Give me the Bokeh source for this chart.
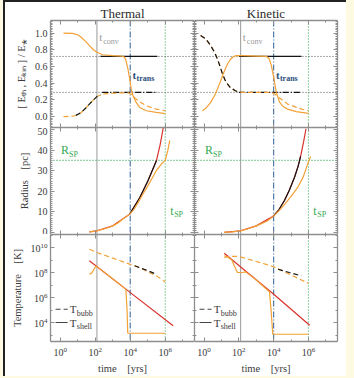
from bokeh.plotting import figure
from bokeh.layouts import row, column
from bokeh.models import (Range1d, LogAxis, LinearAxis, FixedTicker, SingleIntervalTicker,
                          Span, PrintfTickFormatter, GlobalInlineStyleSheet)
from bokeh.core.properties import value
from bokeh.embed import file_html
from bokeh.resources import INLINE

# ---------------- data (times given as log10 of years) ----------------
T_CONV = 10 ** 2.1
T_TRANS = 10 ** 4.0
T_SP = 10 ** 6.0
R_SP = 35.0
E_TH_LEVEL = 0.72
E_KIN_LEVEL = 0.29
panel_titles = ["Thermal", "Kinetic"]

# Thermal run: energy fractions
th_eth_logt = [0.19, 0.7, 1.0, 1.2, 1.45, 1.67, 1.9, 2.1, 2.43, 3.0, 3.5, 3.65, 3.75, 3.87, 3.97, 4.06, 4.16, 4.34, 4.54, 4.92, 5.49, 6.0]
th_eth_val = [1.0, 0.995, 0.98, 0.95, 0.9, 0.85, 0.8, 0.77, 0.74, 0.73, 0.725, 0.715, 0.68, 0.57, 0.45, 0.33, 0.25, 0.17, 0.11, 0.07, 0.05, 0.035]
th_ekin_logt = [0.19, 0.7, 1.0, 1.2, 1.45, 1.67, 1.9, 2.1, 2.43, 3.0, 3.5, 3.9, 4.1, 4.34, 4.6, 4.92, 5.49, 6.0]
th_ekin_val = [0.0, 0.005, 0.02, 0.05, 0.1, 0.15, 0.2, 0.24, 0.27, 0.28, 0.285, 0.285, 0.26, 0.21, 0.17, 0.13, 0.09, 0.07]
th_ekin_ref_logt = [0.9, 1.2, 1.45, 1.67, 1.9, 2.1, 2.3]
th_ekin_ref_val = [0.015, 0.05, 0.1, 0.15, 0.2, 0.24, 0.26]
th_eth_an_logt = [2.3, 5.55]
th_eth_an_val = [0.72, 0.72]
th_ekin_an_logt = [2.4, 5.55]
th_ekin_an_val = [0.29, 0.29]

# Kinetic run: energy fractions
ki_ekin_logt = [-0.2, 0.1, 0.38, 0.6, 0.77, 0.92, 1.06, 1.2, 1.35, 1.5, 1.64, 1.8, 1.92, 2.2, 3.0, 3.8, 4.0, 4.3, 4.55, 4.8, 5.2, 5.6, 6.0]
ki_ekin_val = [0.97, 0.93, 0.85, 0.77, 0.69, 0.6, 0.51, 0.44, 0.39, 0.35, 0.33, 0.31, 0.30, 0.29, 0.29, 0.29, 0.28, 0.23, 0.19, 0.15, 0.12, 0.09, 0.07]
ki_eth_logt = [-0.1, 0.1, 0.38, 0.6, 0.77, 0.92, 1.06, 1.2, 1.35, 1.5, 1.64, 1.83, 2.2, 3.0, 3.6, 3.75, 3.87, 4.02, 4.15, 4.35, 4.55, 4.8, 5.3, 6.0]
ki_eth_val = [0.07, 0.1, 0.17, 0.25, 0.33, 0.41, 0.49, 0.56, 0.63, 0.68, 0.71, 0.73, 0.73, 0.725, 0.72, 0.69, 0.61, 0.45, 0.29, 0.17, 0.12, 0.09, 0.06, 0.04]
ki_ekin_ref_logt = [-0.2, 0.1, 0.38, 0.6, 0.77, 0.92, 1.06, 1.2, 1.35, 1.5, 1.64, 1.8, 1.92]
ki_ekin_ref_val = [0.97, 0.93, 0.85, 0.77, 0.69, 0.6, 0.51, 0.44, 0.39, 0.35, 0.33, 0.31, 0.30]
ki_eth_an_logt = [2.0, 5.6]
ki_eth_an_val = [0.72, 0.72]
ki_ekin_an_logt = [2.0, 5.62]
ki_ekin_an_val = [0.29, 0.29]

# Radius [pc]
th_r_logt = [1.67, 2.1, 2.5, 3.0, 3.3, 3.58, 3.8, 3.97, 4.2, 4.45, 4.73, 5.0, 5.25, 5.49, 5.75, 6.0, 6.15, 6.26]
th_r_val = [0.3, 0.8, 1.7, 3.2, 4.6, 6.5, 7.8, 8.9, 11.0, 14.5, 18.7, 22.5, 26.3, 30.0, 33.0, 35.0, 40.0, 44.7]
th_rref_logt = [1.67, 2.1, 3.0, 3.97, 4.55, 5.02, 5.5, 5.7, 5.89]
th_rref_val = [0.3, 0.8, 3.2, 8.9, 17.0, 25.2, 35.0, 42.3, 51.0]
th_rblk_logt = [3.97, 4.55, 5.02, 5.5]
th_rblk_val = [8.9, 17.0, 25.2, 35.0]

ki_r_logt = [1.16, 1.6, 2.1, 2.5, 3.0, 3.3, 3.66, 3.97, 4.3, 4.62, 5.0, 5.39, 5.7, 6.03, 6.13]
ki_r_val = [0.0, 0.3, 0.8, 1.7, 3.2, 4.3, 5.7, 7.8, 10.5, 13.5, 17.5, 22.0, 27.0, 35.0, 36.9]
ki_rref_logt = [1.16, 2.1, 3.0, 3.97, 4.3, 4.62, 4.9, 5.2, 5.4, 5.58, 5.72, 5.86]
ki_rref_val = [0.0, 0.8, 3.2, 7.8, 11.0, 15.5, 20.5, 26.8, 32.0, 38.2, 44.0, 50.4]
ki_rblk_logt = [3.97, 4.3, 4.62, 4.9, 5.2, 5.4, 5.55]
ki_rblk_val = [7.8, 11.0, 15.5, 20.5, 26.8, 32.0, 37.0]

# Temperature [K] (log10 values)
th_tb_logt = [1.67, 2.1, 3.0, 3.97, 4.54, 5.0, 5.5, 6.0]
th_tb_logT = [9.86, 9.6, 9.15, 8.67, 8.4, 8.05, 7.73, 7.26]
th_tbref_logt = [4.25, 4.6, 5.0, 5.49]
th_tbref_logT = [8.54, 8.35, 8.15, 7.86]
th_tsref_logt = [1.67, 3.97, 6.45]
th_tsref_logT = [8.94, 6.43, 3.74]
th_ts_logt = [1.67, 1.8, 1.95, 2.05, 3.0, 3.75, 3.82, 3.86, 4.5, 5.5, 6.0]
th_ts_logT = [7.86, 7.95, 8.3, 8.53, 7.5, 6.67, 5.0, 3.14, 3.14, 3.14, 3.14]

ki_tb_logt = [1.16, 1.5, 2.02, 3.0, 3.97, 5.0, 5.99]
ki_tb_logT = [9.2, 9.3, 9.28, 8.88, 8.48, 7.8, 7.14]
ki_tbref_logt = [4.25, 4.9, 5.59]
ki_tbref_logT = [8.26, 8.0, 7.73]
ki_tsref_logt = [1.16, 2.4, 3.97, 6.07]
ki_tsref_logT = [9.54, 8.1, 6.3, 3.78]
ki_ts_logt = [1.16, 1.4, 1.6, 1.73, 1.92, 2.2, 2.4, 3.0, 3.76, 3.85, 3.95, 5.0, 6.0]
ki_ts_logT = [9.34, 9.2, 9.0, 8.54, 8.0, 8.0, 8.05, 7.4, 6.45, 5.0, 3.06, 3.06, 3.06]

x_tick_vals = [1, 1e2, 1e4, 1e6]
x_minor_vals = [1e1, 1e3, 1e5, 1e7]
t_tick_vals = [1e4, 1e6, 1e8, 1e10]
t_minor_vals = [1e3, 1e5, 1e7, 1e9, 1e11]


def ex(v):
    return [10 ** a for a in v]


# ---------------- styling ----------------
FONT = "Liberation Serif"
ORANGE = "#f2a136"
RED = "#d8322c"
BLACK = "#151515"
GRAY = "#a3a3a3"
BLUE = "#3f6d9e"
BLUE_T = "#2c4f7c"
GREEN = "#34a852"
FRAME = "#8e8e8e"
TXT = "#3a3a3a"
LW = 1.2
X_LO, X_HI = 10 ** -0.55, 10 ** 7.67


def style_axis(ax, show_labels, standoff=3):
    ax.axis_line_color = FRAME
    ax.axis_line_width = 1.3
    ax.major_tick_in = 4
    ax.major_tick_out = 0
    ax.minor_tick_in = 2
    ax.minor_tick_out = 0
    ax.major_tick_line_color = FRAME
    ax.minor_tick_line_color = FRAME
    ax.major_label_text_font = FONT
    ax.major_label_text_color = TXT
    ax.axis_label_text_font = FONT
    ax.axis_label_text_font_style = "normal"
    ax.axis_label_text_color = TXT
    ax.axis_label_text_font_size = "10.5px"
    if show_labels:
        ax.major_label_text_font_size = "10px"
        ax.major_label_standoff = standoff
    else:
        ax.major_label_text_font_size = "1px"
        ax.major_label_text_alpha = 0
        ax.major_label_standoff = 0


def make(col, kind, title=None):
    ylog = kind == "temp"
    yr = {"energy": (-0.13, 1.15), "radius": (-1.0, 51.0), "temp": (10 ** 2.48, 10 ** 11.04)}[kind]
    p = figure(frame_width=144 if col == 0 else 143, frame_height=107,
               x_axis_type="log", y_axis_type="log" if ylog else "linear",
               x_range=Range1d(X_LO, X_HI), y_range=Range1d(*yr),
               output_backend="svg", toolbar_location=None,
               min_border_left=45 if col == 0 else 0, min_border_right=0 if col == 0 else 9,
               min_border_top=18 if kind == "energy" else 0, min_border_bottom=0,
               background_fill_color="white", border_fill_color="white",
               outline_line_color=None)
    p.grid.visible = False

    def xticker():
        return FixedTicker(ticks=x_tick_vals, minor_ticks=x_minor_vals)

    def yticker():
        if kind == "energy":
            return SingleIntervalTicker(interval=0.2, num_minor_ticks=10)
        if kind == "radius":
            return SingleIntervalTicker(interval=10, num_minor_ticks=10)
        return FixedTicker(ticks=t_tick_vals, minor_ticks=t_minor_vals)

    p.xaxis.ticker = xticker()
    p.yaxis.ticker = yticker()
    style_axis(p.xaxis[0], kind == "temp", standoff=5)
    style_axis(p.yaxis[0], col == 0)
    if kind == "energy":
        p.yaxis.formatter = PrintfTickFormatter(format="%.1f")
    if kind == "temp":
        p.xaxis.axis_label = "time\u2002\u2002[yrs]"
        p.xaxis.axis_label_standoff = 4
    if col == 0:
        p.yaxis.axis_label = {"energy": "[ E\u209c\u2095 , E\u2096\u1d62\u2099 ] / E\u204e",
                              "radius": "Radius\u2002\u2002[pc]",
                              "temp": "Temperature\u2002\u2002[K]"}[kind]
        p.yaxis.axis_label_standoff = 5

    top = LogAxis(ticker=xticker())
    style_axis(top, False)
    if title is not None:
        # panel heading placed just above the frame
        top.axis_label = title
        top.axis_label_text_font_size = "13px"
        top.axis_label_text_color = "#2a2a2a"
        top.axis_label_standoff = 0
    p.add_layout(top, "above")
    right = LogAxis(ticker=yticker()) if ylog else LinearAxis(ticker=yticker())
    style_axis(right, False)
    p.add_layout(right, "right")

    p.add_layout(Span(location=T_CONV, dimension="height", line_color=GRAY, line_width=1.1, level="underlay"))
    p.add_layout(Span(location=T_TRANS, dimension="height", line_color=BLUE, line_width=1.1,
                      line_dash="6 2 1 2", level="underlay"))
    p.add_layout(Span(location=T_SP, dimension="height", line_color=GREEN, line_width=1.1,
                      line_dash="1 2", level="underlay"))
    return p


def sub_text(p, x, y, main, sub, color, size=11, subsize=8, dx=4, dy=4, bold=False):
    st = "bold" if bold else "normal"
    p.text(x=[x], y=[y], text=[main], text_font=value(FONT), text_font_size=f"{size}px",
           text_color=color, text_align="left", text_baseline="middle", text_font_style=st)
    p.text(x=[x], y=[y], text=[sub], text_font=value(FONT), text_font_size=f"{subsize}px",
           text_color=color, text_align="left", text_baseline="middle", x_offset=dx, y_offset=dy,
           text_font_style=st)


figs = []
for col, name in enumerate(panel_titles):
    # energy
    pe = make(col, "energy", title=name)
    pe.add_layout(Span(location=E_TH_LEVEL, dimension="width", line_color="#555555", line_width=1,
                       line_dash="1 2", level="underlay"))
    pe.add_layout(Span(location=E_KIN_LEVEL, dimension="width", line_color="#555555", line_width=1,
                       line_dash="1 2", level="underlay"))
    if col == 0:
        pe.line(ex(th_eth_an_logt), th_eth_an_val, line_color=BLACK, line_width=LW)
        pe.line(ex(th_ekin_an_logt), th_ekin_an_val, line_color=BLACK, line_width=LW, line_dash="6 2 1 2")
        pe.line(ex(th_eth_logt), th_eth_val, line_color=ORANGE, line_width=LW)
        pe.line(ex(th_ekin_logt), th_ekin_val, line_color=ORANGE, line_width=LW, line_dash="5 3")
        pe.line(ex(th_ekin_ref_logt), th_ekin_ref_val, line_color=BLACK, line_width=LW, line_dash="5 3")
    else:
        pe.line(ex(ki_eth_an_logt), ki_eth_an_val, line_color=BLACK, line_width=LW)
        pe.line(ex(ki_ekin_an_logt), ki_ekin_an_val, line_color=BLACK, line_width=LW, line_dash="6 2 1 2")
        pe.line(ex(ki_eth_logt), ki_eth_val, line_color=ORANGE, line_width=LW)
        pe.line(ex(ki_ekin_logt), ki_ekin_val, line_color=ORANGE, line_width=LW, line_dash="5 3")
        pe.line(ex(ki_ekin_ref_logt), ki_ekin_ref_val, line_color=BLACK, line_width=LW, line_dash="5 3")
    sub_text(pe, T_CONV * 1.35, 0.95, "t", "conv", "#9a9a9a")
    sub_text(pe, T_TRANS * 1.35, 0.5, "t", "trans", BLUE_T, bold=True)

    # radius
    pr = make(col, "radius")
    pr.add_layout(Span(location=R_SP, dimension="width", line_color=GREEN, line_width=1.1,
                       line_dash="1 2", level="underlay"))
    if col == 0:
        pr.line(ex(th_rref_logt), th_rref_val, line_color=RED, line_width=LW)
        pr.line(ex(th_rblk_logt), th_rblk_val, line_color=BLACK, line_width=LW)
        pr.line(ex(th_r_logt), th_r_val, line_color=ORANGE, line_width=LW)
    else:
        pr.line(ex(ki_rref_logt), ki_rref_val, line_color=RED, line_width=LW)
        pr.line(ex(ki_rblk_logt), ki_rblk_val, line_color=BLACK, line_width=LW)
        pr.line(ex(ki_r_logt), ki_r_val, line_color=ORANGE, line_width=LW)
    sub_text(pr, 10 ** 0.05, 40.0, "R", "SP", GREEN, size=12, dx=8, dy=4)
    sub_text(pr, 10 ** 6.28, 10.5, "t", "SP", GREEN, size=12, dx=4, dy=4)

    # temperature
    pt = make(col, "temp")
    if col == 0:
        pt.line(ex(th_tsref_logt), ex(th_tsref_logT), line_color=RED, line_width=LW)
        pt.line(ex(th_ts_logt), ex(th_ts_logT), line_color=ORANGE, line_width=LW)
        pt.line(ex(th_tb_logt), ex(th_tb_logT), line_color=ORANGE, line_width=LW, line_dash="5 3")
        pt.line(ex(th_tbref_logt), ex(th_tbref_logT), line_color=BLACK, line_width=LW, line_dash="5 3")
    else:
        pt.line(ex(ki_tsref_logt), ex(ki_tsref_logT), line_color=RED, line_width=LW)
        pt.line(ex(ki_ts_logt), ex(ki_ts_logT), line_color=ORANGE, line_width=LW)
        pt.line(ex(ki_tb_logt), ex(ki_tb_logT), line_color=ORANGE, line_width=LW, line_dash="5 3")
        pt.line(ex(ki_tbref_logt), ex(ki_tbref_logT), line_color=BLACK, line_width=LW, line_dash="5 3")
    lx0, lx1, tx = 10 ** -0.26, 10 ** 0.43, 10 ** 0.55
    pt.line([lx0, lx1], [10 ** 5.06, 10 ** 5.06], line_color="#444444", line_width=1, line_dash="5 3")
    pt.line([lx0, lx1], [10 ** 4.0, 10 ** 4.0], line_color="#444444", line_width=1)
    sub_text(pt, tx, 10 ** 5.06, "T", "bubb", TXT, size=11, dx=7, dy=4)
    sub_text(pt, tx, 10 ** 4.0, "T", "shell", TXT, size=11, dx=7, dy=4)

    figs.append((pe, pr, pt))

root = column(row(figs[0][0], figs[1][0]), row(figs[0][1], figs[1][1]), row(figs[0][2], figs[1][2]),
              styles={"background-color": "white", "border-left": "2px solid #222222",
                      "border-top": "2px solid #222222", "margin-left": "3px"})
root.stylesheets = [GlobalInlineStyleSheet(css="html, body { background-color: #fdfae1; overflow: hidden; }")]

open("out.html", "w").write(file_html(root, INLINE))
